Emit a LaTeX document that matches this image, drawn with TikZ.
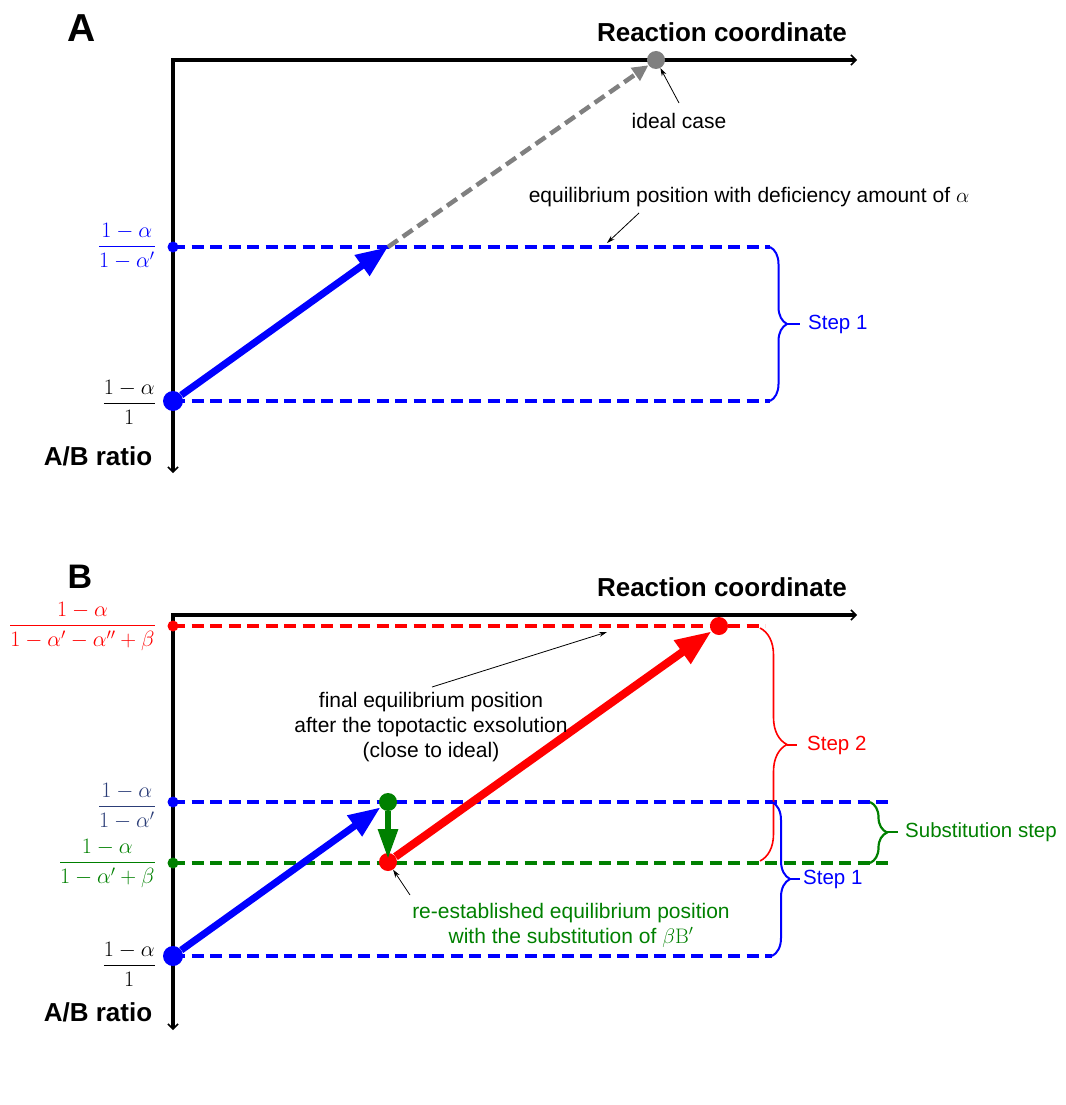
\documentclass[tikz,border=0pt]{standalone}
\usepackage{fix-cm}
\usepackage[no-math]{fontspec}
\setmainfont{Liberation Sans}
\usetikzlibrary{arrows.meta,decorations.pathreplacing,backgrounds}
\definecolor{cblue}{RGB}{0,0,255}
\definecolor{cred}{RGB}{255,0,0}
\definecolor{cgreen}{RGB}{0,128,0}
\definecolor{cgrey}{RGB}{128,128,128}
\definecolor{cnavy}{RGB}{44,62,120}
\begin{document}
\begin{tikzpicture}[x=1pt,y=-1pt,
  axisline/.style={line width=3.6pt,line join=miter,
    {Straight Barb[length=5pt,width=10pt,line width=1.5pt]}-{Straight Barb[length=5pt,width=10pt,line width=1.5pt]}},
  dash line/.style={line width=3.5pt,dash pattern=on 12pt off 6.5pt},
  bigdot/.style={circle,inner sep=0pt,minimum size=19pt},
  smalldot/.style={circle,inner sep=0pt,minimum size=11pt},
  title/.style={font=\bfseries\fontsize{26}{30}\selectfont},
  panel/.style={font=\bfseries\fontsize{39}{40}\selectfont,inner sep=0pt},
  txt/.style={font=\fontsize{21}{25}\selectfont,align=center},
  steplbl/.style={font=\fontsize{20.5}{24}\selectfont,anchor=west,inner sep=0pt},
  fraclbl/.style={anchor=base east,inner sep=0pt,font=\fontsize{22}{26}\selectfont},
  brc/.style={decorate,line width=2pt},
  thickarr/.style={line width=7pt,-{Triangle[length=32pt,width=24pt]}},
  note/.style={line width=0.8pt,-{Stealth[length=8pt,width=5pt]}},
]
\useasboundingbox (0,0) rectangle (1065,1105);

% ================= Panel A =================
\node[panel] (pA) at (82,28) {A};
\node[title] (rcA) at (722,32) {Reaction coordinate};
\node[font=\bfseries\fontsize{26}{30}\selectfont] (abA) at (98,456) {A/B ratio};
\coordinate (cA) at (173,60);
\coordinate (xA) at (857,60);
\coordinate (yA) at (173,473);

\node[bigdot,fill=cblue,minimum size=20pt] (a0) at (173,401) {};
\node[smalldot,fill=cblue] (a1l) at (173,247) {};
\node[bigdot,fill=cgrey,minimum size=18pt] (aid) at (656,60) {};
\coordinate (a1) at (388,247);
\coordinate (a1r) at (770,247);
\coordinate (a0r) at (770,401);
\coordinate (bA1tip) at (787,324);

\node[fraclbl,text=cblue] (fA1) at (156,252) {$\displaystyle\frac{1-\alpha}{1-\alpha'}$};
\node[fraclbl] (fA0) at (156,409) {$\displaystyle\frac{1-\alpha}{1}$};

\node[txt] (ideal) at (679,121) {ideal case};
\coordinate (icA) at (679,103);
\node[txt] (eqA) at (749,197) {equilibrium position with deficiency amount of $\alpha$};
\coordinate (eqs) at (639,213);
\coordinate (eqe) at (607,243);
\node[steplbl,text=cblue,inner xsep=8pt] (sA1) at (800,324) {Step 1};

\begin{scope}[on background layer]
  \draw[axisline] (xA) -- (cA) -- (yA);
  \draw[dash line,cblue] (a1l.center) -- (a1r);
  \draw[dash line,cblue] (a0.center) -- (a0r);
  \draw[brc,cblue,decoration={brace,amplitude=17pt}] (a1r) -- (a0r);
  \draw[cblue,line width=2pt] (bA1tip) -- (sA1.west);
  \draw[cgrey,line width=4.5pt,dash pattern=on 12pt off 6pt,-{Triangle[length=16pt,width=15pt]}] (a1) -- (aid);
  \draw[thickarr,cblue] (a0) -- (a1);
  \draw[note] (icA) -- (aid);
  \draw[note] (eqs) -- (eqe);
\end{scope}

% ================= Panel B =================
\node[panel,font=\bfseries\fontsize{34}{36}\selectfont] (pB) at (80,577) {B};
\node[title] (rcB) at (722,587) {Reaction coordinate};
\node[font=\bfseries\fontsize{26}{30}\selectfont] (abB) at (98,1012) {A/B ratio};
\coordinate (cB) at (173,615);
\coordinate (xB) at (857,615);
\coordinate (yB) at (173,1030);

\node[smalldot,fill=cred] (rl) at (173,626) {};
\coordinate (rr) at (765,626);
\node[bigdot,fill=cred,minimum size=18pt] (rend) at (719,626) {};
\node[smalldot,fill=cblue] (bl) at (173,802) {};
\coordinate (br) at (893,802);
\node[smalldot,fill=cgreen] (gl) at (173,863) {};
\coordinate (gr) at (893,863);
\node[bigdot,fill=cblue,minimum size=20pt] (b0) at (173,956) {};
\coordinate (b0r) at (772,956);
\coordinate (b1r) at (772,802);
\node[bigdot,fill=cred,minimum size=18pt] (rd) at (388,862) {};
\node[bigdot,fill=cgreen,minimum size=18pt] (gd) at (388,802) {};
\coordinate (gtip) at (388,859);

\node[fraclbl,text=cred] (fB3) at (156,631) {$\displaystyle\frac{1-\alpha}{1-\alpha'-\alpha''+\beta}$};
\node[fraclbl,text=cnavy] (fB2) at (156,812) {$\displaystyle\frac{1-\alpha}{1-\alpha'}$};
\node[fraclbl,text=cgreen] (fB1) at (156,868) {$\displaystyle\frac{1-\alpha}{1-\alpha'+\beta}$};
\node[fraclbl] (fB0) at (156,971) {$\displaystyle\frac{1-\alpha}{1}$};

\node[txt] (finalB) at (431,727) {final equilibrium position\\after the topotactic exsolution\\(close to ideal)};
\coordinate (fs) at (432,687);
\coordinate (fe) at (607,632);
\node[txt,text=cgreen] (reB) at (571,925) {re-established equilibrium position\\with the substitution of $\beta\mathrm{B}'$};
\coordinate (rs) at (410,895);

\coordinate (rbt) at (760,628);
\coordinate (rbb) at (760,861);
\coordinate (rbtip) at (787,745);
\node[steplbl,text=cred,inner xsep=10pt] (sB2) at (797,745) {Step 2};
\coordinate (bbtip) at (790,879);
\node[steplbl,text=cblue,inner xsep=3pt] (sB1) at (800,879) {Step 1};
\coordinate (gbt) at (870,802);
\coordinate (gbb) at (870,863);
\coordinate (gbtip) at (887,832);
\node[steplbl,text=cgreen,inner xsep=7pt] (sBs) at (898,832) {Substitution step};

\begin{scope}[on background layer]
  \draw[axisline] (xB) -- (cB) -- (yB);
  \draw[dash line,cred] (rl.center) -- (rr);
  \draw[dash line,cblue] (bl.center) -- (br);
  \draw[dash line,cgreen] (gl.center) -- (gr);
  \draw[dash line,cblue] (b0.center) -- (b0r);
  \draw[brc,cred,line width=1.6pt,decoration={brace,amplitude=27pt}] (rbt) -- (rbb);
  \draw[cred,line width=1.6pt] (rbtip) -- (sB2.west);
  \draw[brc,cblue,decoration={brace,amplitude=18pt}] (b1r) -- (b0r);
  \draw[cblue,line width=2pt] (bbtip) -- (sB1.west);
  \draw[brc,cgreen,line width=2.2pt,decoration={brace,amplitude=17pt}] (gbt) -- (gbb);
  \draw[cgreen,line width=2.2pt] (gbtip) -- (sBs.west);
  \draw[thickarr,cblue] (b0) -- (gd);
  \draw[cred,line width=8pt,-{Triangle[length=36pt,width=27pt]}] (rd) -- (rend);
  \draw[note] (fs) -- (fe);
  \draw[note] (rs) -- (rd);
\end{scope}
\draw[cgreen,line width=6pt,-{Triangle[length=30pt,width=19pt]}] (gd) -- (gtip);
\end{tikzpicture}
\end{document}
